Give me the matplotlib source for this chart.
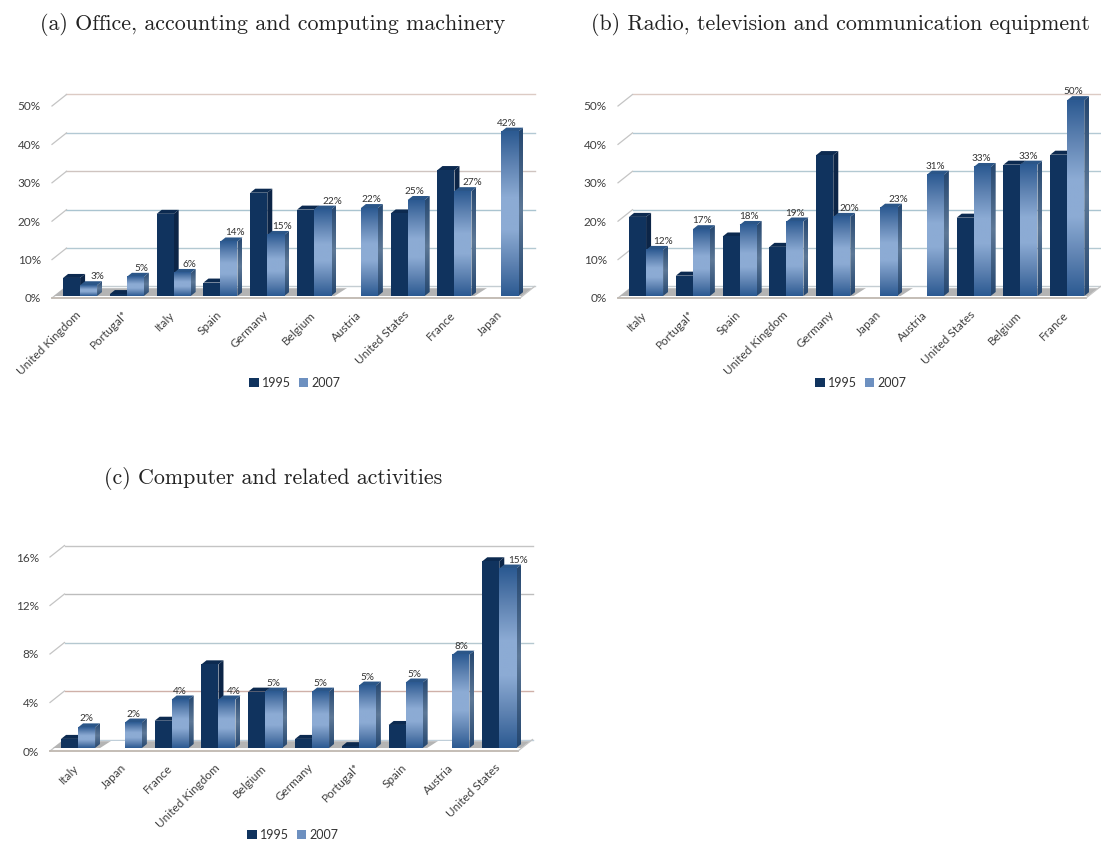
import numpy as np
import matplotlib
matplotlib.use('Agg')
import matplotlib.pyplot as plt
from matplotlib.colors import LinearSegmentedColormap
from matplotlib.patches import Patch, Polygon

plt.rcParams['font.family'] = ['Lato', 'DejaVu Sans']
plt.rcParams['axes.unicode_minus'] = False

W, H = 1101, 844

## data (nan = no 1995 bar)
nan = float('nan')

titles = ['(a) Office, accounting and computing machinery',
          '(b) Radio, television and communication equipment',
          '(c) Computer and related activities']

cats_a = ['United Kingdom', 'Portugal*', 'Italy', 'Spain', 'Germany',
          'Belgium', 'Austria', 'United States', 'France', 'Japan']
a_1995 = [4.7, 0.5, 21.4, 3.5, 26.9, 22.5, nan, 21.5, 32.8, nan]
a_2007 = [2.8, 5.0, 6.0, 14.2, 15.9, 22.5, 22.9, 25.0, 27.3, 42.8]
a_text = ['3%', '5%', '6%', '14%', '15%', '22%', '22%', '25%', '27%', '42%']

cats_b = ['Italy', 'Portugal*', 'Spain', 'United Kingdom', 'Germany',
          'Japan', 'Austria', 'United States', 'Belgium', 'France']
b_1995 = [20.6, 5.3, 15.5, 12.8, 36.7, nan, nan, 20.4, 34.2, 36.8]
b_2007 = [12.0, 17.4, 18.5, 19.4, 20.6, 23.0, 31.6, 33.6, 34.2, 51.0]
b_text = ['12%', '17%', '18%', '19%', '20%', '23%', '31%', '33%', '33%', '50%']

cats_c = ['Italy', 'Japan', 'France', 'United Kingdom', 'Belgium',
          'Germany', 'Portugal*', 'Spain', 'Austria', 'United States']
c_1995 = [0.75, nan, 2.25, 6.9, 4.65, 0.75, 0.15, 1.9, nan, 15.4]
c_2007 = [1.7, 2.1, 4.0, 4.0, 4.65, 4.65, 5.15, 5.4, 7.7, 14.8]
c_text = ['2%', '2%', '4%', '4%', '5%', '5%', '5%', '5%', '8%', '15%']

ticks_ab = [0, 10, 20, 30, 40, 50]
ticks_c = [0, 4, 8, 12, 16]

# data label nudges in px, the chart placed them by hand
nudge_a = [8.5, 6, 7, 6, 6, 9.5, 2, -2, 9, -3]
nudge_b = [8.5, 0.5, 1, 0, 8, 9.5, 0, -1, -1, -2]
nudge_c = [0, 0, 0, 7, 0, 0, 0, 0, 0, 10]

grid_a = ['#c4cdd2', '#b3c9d2', '#aac4d0', '#cfc4c0', '#b3c9d4', '#dccbc4']
grid_b = ['#c4cdd2', '#b3c9d2', '#aac4d0', '#b3c9d2', '#b3c9d4', '#dccbc4']
grid_c = ['#bfced9', '#cfb0a8', '#b5c8d0', '#bdbdbd', '#c4c4c4']

# fancy office-chart colours
front_07 = LinearSegmentedColormap.from_list('f07', ['#2c5a92', '#5f83b2', '#8cabd4', '#8cabd4', '#5f83b2', '#2c5a92'])
side_07 = LinearSegmentedColormap.from_list('s07', ['#24466f', '#5d7897', '#24466f'])
TOP_07 = '#2b5688'
FRONT_95, SIDE_95, TOP_95 = '#10335e', '#0c2547', '#0c2a50'

BAR_W = 17 / 46.8
BAR_SHIFT = 0.1


def grad(ax, cmap, extent, clip=None):
    im = ax.imshow(np.linspace(1, 0, 128)[:, None], cmap=cmap, extent=extent, aspect='auto',
                   interpolation='bilinear', zorder=5)
    if clip is not None:
        clip.set_transform(ax.transData)
        im.set_clip_path(clip)
        # tall bars poke out of the axes box
        im.set_clip_box(fig.bbox)
    else:
        im.set_clip_on(False)
    return im


def draw_bar(ax, x0, base, h, dx, dy, year07):
    x1 = x0 + BAR_W
    y1 = base + h
    top = [(x0, y1), (x1, y1), (x1 + dx, y1 + dy), (x0 + dx, y1 + dy)]
    side = [(x1, base), (x1 + dx, base + dy), (x1 + dx, y1 + dy), (x1, y1)]
    if year07:
        ax.add_patch(Polygon(top, fc=TOP_07, ec='none', zorder=5, clip_on=False))
        grad(ax, side_07, [x1, x1 + dx, base, y1 + dy], Polygon(side))
        grad(ax, front_07, [x0, x1, base, y1])
    else:
        ax.add_patch(Polygon(top, fc=TOP_95, ec='none', zorder=5, clip_on=False))
        ax.add_patch(Polygon(side, fc=SIDE_95, ec='none', zorder=5, clip_on=False))
        ax.bar(x0, h, BAR_W, bottom=base, align='edge', color=FRONT_95, zorder=5, clip_on=False)


def panel(left, y0, y_top, ymax, base_px, title, title_xy, cats, v95, v07, texts, nudge, ticks, grid_cols, legend_y):
    ax = fig.add_axes([left / W, 1 - y0 / H, 468 / W, (y0 - y_top) / H])
    sx = 46.8
    sy = (y0 - y_top) / ymax
    wall_dx, wall_dy = 14.5 / sx, 11.5 / sy
    bar_dx, bar_dy = 5 / sx, 4 / sy
    base = base_px / sy
    floor_top = wall_dy * 0.85

    # back wall
    for t, col in zip(ticks, grid_cols):
        ax.plot([-0.5 + wall_dx, 9.5 + wall_dx], [t + wall_dy] * 2, color=col, lw=1.0, zorder=1, clip_on=False)
        ax.plot([-0.5, -0.5 + wall_dx], [t, t + wall_dy], color='#c4c4c4', lw=0.9, zorder=1, clip_on=False)

    # floor, grey band sits just behind the front edge
    fl = [(-0.5 + base * sy / sx, base), (9.5 + base * sy / sx, base), (9.5 + wall_dx * 0.85, floor_top),
          (-0.5 + wall_dx * 0.85, floor_top)]
    ax.add_patch(Polygon(fl, fc='#b4b4b4', ec='none', zorder=2, clip_on=False))
    ax.plot([-0.5, 9.5], [0, 0], color='#bfb8b0', lw=1.3, zorder=3, clip_on=False)
    ax.plot([9.5, 9.5 + wall_dx], [0, wall_dy], color='#c4c4c4', lw=0.9, zorder=3, clip_on=False)

    xs = np.arange(len(cats))
    for x, h95, h07, txt, nd in zip(xs, v95, v07, texts, nudge):
        xm = x + BAR_SHIFT
        if np.isnan(h95):
            # no 1995 bar, slanted white gap in the floor
            gap = [(xm - 0.6, base * 0.5), (xm + 0.1, base * 0.5), (xm + 0.1, floor_top * 1.02),
                   (xm - 0.3, floor_top * 1.02)]
            ax.add_patch(Polygon(gap, fc='white', ec='none', zorder=3, clip_on=False))
        else:
            draw_bar(ax, xm - BAR_W, base, h95, bar_dx, bar_dy, False)
        draw_bar(ax, xm, base, h07, bar_dx, bar_dy, True)
        ax.text(xm + BAR_W / 2 + nd / sx, base + h07 + 8.5 / sy, txt, ha='center', va='center',
                fontsize=7.2, color='#333333', zorder=7)

    ax.set_xlim(-0.5, 9.5)
    ax.set_ylim(0, ymax)
    for s in ax.spines.values():
        s.set_visible(False)
    ax.patch.set_visible(False)
    ax.set_xticks(xs, cats, rotation=45, ha='right', rotation_mode='anchor', fontsize=8.5, color='#404040')
    ax.set_yticks(ticks, [f'{t}%' for t in ticks], fontsize=8.5, color='#404040')
    ax.tick_params(length=0)
    ax.tick_params(axis='x', pad=8)
    ax.tick_params(axis='y', pad=8)

    fig.text(title_xy[0] / W, 1 - title_xy[1] / H, title, family='cmr10', fontsize=15.8, ha='center',
             va='center', color='#222222')

    handles = [Patch(fc=FRONT_95, label='1995'), Patch(fc='#6d90c0', label='2007')]
    fig.legend(handles=handles, loc='center', bbox_to_anchor=((left + 243) / W, 1 - legend_y / H), ncols=2,
               frameon=False, fontsize=9, handlelength=0.75, handleheight=0.75, handletextpad=0.3,
               columnspacing=0.6, labelcolor='#333333')
    return ax


fig = plt.figure(figsize=(W / 100, H / 100), dpi=100)

panel(52, 298, 106, 50, 2, titles[0], (273, 25), cats_a, a_1995, a_2007, a_text, nudge_a, ticks_ab, grid_a, 383)
panel(618, 298, 106, 50, 2, titles[1], (840, 25), cats_b, b_1995, b_2007, b_text, nudge_b, ticks_ab, grid_b, 383)
panel(50, 751, 557, 16, 3, titles[2], (273, 478), cats_c, c_1995, c_2007, c_text, nudge_c, ticks_c, grid_c, 835)

plt.savefig('out.png', dpi=100)
plt.close(fig)
